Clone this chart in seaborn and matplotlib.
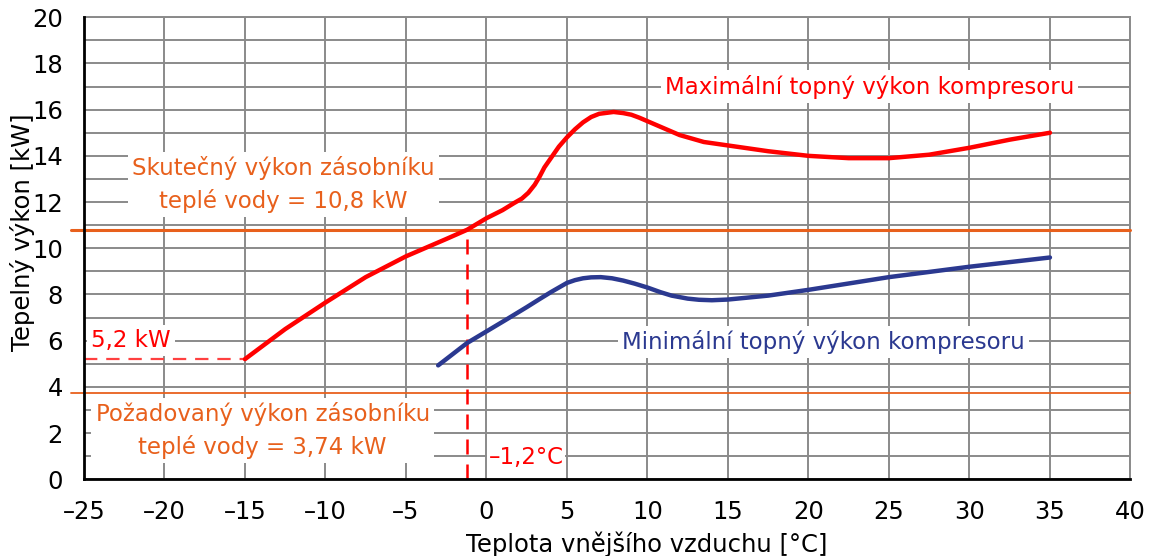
import numpy as np
import pandas as pd
import matplotlib.pyplot as plt
import seaborn as sns

# ------------------------------------------------------------------
# DATA
# ------------------------------------------------------------------
max_temp = [-15, -12.5, -10, -7.5, -5, -2.5, -1.2, 0, 1, 1.7, 2.2, 2.6, 3.0, 3.3,
            3.6, 4.0, 4.5, 5.0, 5.5, 6.0, 6.5, 7.0, 7.9, 8.5, 9.0, 9.5, 10, 11,
            12, 13.5, 15, 17.5, 20, 22.5, 25, 27.5, 30, 32.5, 35]
max_power = [5.2, 6.5, 7.65, 8.75, 9.65, 10.4, 10.8, 11.3, 11.65, 11.95, 12.15,
             12.4, 12.75, 13.1, 13.5, 13.9, 14.4, 14.8, 15.15, 15.45, 15.68,
             15.82, 15.9, 15.85, 15.78, 15.65, 15.5, 15.2, 14.9, 14.6, 14.45,
             14.2, 14.0, 13.9, 13.9, 14.05, 14.35, 14.7, 15.0]

min_temp = [-3, -1.2, 0, 1.2, 2.5, 3.3, 4, 5, 5.5, 6, 6.5, 7.1, 7.8, 8.5, 9.2,
            10, 10.8, 11.5, 12.5, 13.2, 14, 15, 17.5, 20, 25, 30, 35]
min_power = [4.93, 5.9, 6.4, 6.9, 7.45, 7.8, 8.1, 8.5, 8.62, 8.7, 8.74, 8.75,
             8.7, 8.6, 8.47, 8.3, 8.1, 7.95, 7.82, 7.77, 7.75, 7.78, 7.95, 8.2,
             8.75, 9.2, 9.6]

actual_power = 10.8      # Skutečný výkon zásobníku
required_power = 3.74    # Požadovaný výkon zásobníku
balance_temp = -1.2      # bod bivalence
low_limit_temp = -15
low_limit_power = 5.2

x_ticks = [-25, -20, -15, -10, -5, 0, 5, 10, 15, 20, 25, 30, 35, 40]
y_ticks = [0, 2, 4, 6, 8, 10, 12, 14, 16, 18, 20]

RED = "#ff0000"
NAVY = "#2b3990"
ORANGE = "#e8601c"
GRID = "#8a8a8a"

# ------------------------------------------------------------------
# PLOT
# ------------------------------------------------------------------
sns.set_theme(style="white")
plt.rcParams["font.family"] = ["DejaVu Sans"]

fig = plt.figure(figsize=(11.5, 5.56), dpi=100)
ax = fig.add_axes([0.073, 0.138, 0.910, 0.831])

df_max = pd.DataFrame({"t": max_temp, "p": max_power})
df_min = pd.DataFrame({"t": min_temp, "p": min_power})
sns.lineplot(data=df_max, x="t", y="p", color=RED, lw=3.2, sort=False, ax=ax, zorder=5)
sns.lineplot(data=df_min, x="t", y="p", color=NAVY, lw=3.2, sort=False, ax=ax, zorder=5)

ax.axhline(actual_power, xmin=-0.012, xmax=1, color=ORANGE, lw=2.2, clip_on=False, zorder=4)
ax.axhline(required_power, xmin=-0.012, xmax=1, color=ORANGE, lw=1.3, clip_on=False, zorder=4)

ax.plot([x_ticks[0], low_limit_temp], [low_limit_power, low_limit_power],
        color="#ff4040", lw=1.6, ls=(0, (6, 4)), zorder=4)
ax.plot([balance_temp, balance_temp], [0, actual_power],
        color=RED, lw=1.8, ls=(0, (6, 4)), zorder=4)

box = dict(facecolor="white", edgecolor="none", pad=3)
fs = 16.5
ax.text(-12.6, 12.75, "Skutečný výkon zásobníku\nteplé vody = 10,8 kW", color=ORANGE,
        ha="center", va="center", fontsize=fs, linespacing=1.45, bbox=box, zorder=6)
ax.text(-13.9, 2.1, "Požadovaný výkon zásobníku\nteplé vody = 3,74 kW", color=ORANGE,
        ha="center", va="center", fontsize=fs, linespacing=1.45, bbox=box, zorder=6)
ax.text(23.8, 17.0, "Maximální topný výkon kompresoru", color=RED,
        ha="center", va="center", fontsize=fs, bbox=box, zorder=6)
ax.text(20.95, 5.95, "Minimální topný výkon kompresoru", color=NAVY,
        ha="center", va="center", fontsize=fs, bbox=box, zorder=6)
ax.text(-22.1, 6.0, "5,2 kW", color=RED,
        ha="center", va="center", fontsize=fs, bbox=box, zorder=6)
ax.text(2.45, 0.95, "–1,2°C", color=RED,
        ha="center", va="center", fontsize=fs, bbox=dict(facecolor="white", edgecolor="none", pad=1), zorder=6)

ax.set_xlim(x_ticks[0], x_ticks[-1])
ax.set_ylim(y_ticks[0], y_ticks[-1])
ax.set_xticks(x_ticks)
ax.set_xticklabels([str(v).replace("-", "–") for v in x_ticks])
ax.set_yticks(y_ticks)
ax.set_yticks(range(1, 20, 2), minor=True)

ax.set_axisbelow(True)
ax.grid(which="both", color=GRID, lw=1.4)
ax.tick_params(axis="both", which="both", direction="out", length=11, width=1.4,
               color=GRID, labelsize=17.5, labelcolor="black", pad=4)
ax.tick_params(axis="y", which="minor", length=11)

for side in ["left", "bottom"]:
    ax.spines[side].set_color("black")
    ax.spines[side].set_linewidth(2)
    ax.spines[side].set_zorder(7)
for side in ["top", "right"]:
    ax.spines[side].set_color(GRID)
    ax.spines[side].set_linewidth(1.4)

ax.set_xlabel("Teplota vnějšího vzduchu [°C]", fontsize=17.5, color="black")
ax.set_ylabel("Tepelný výkon [kW]", fontsize=17.5, color="black")
ax.xaxis.set_label_coords(0.538, -0.112)
ax.yaxis.set_label_coords(-0.047, 0.535)

plt.savefig("out.png", dpi=100)
plt.close()
